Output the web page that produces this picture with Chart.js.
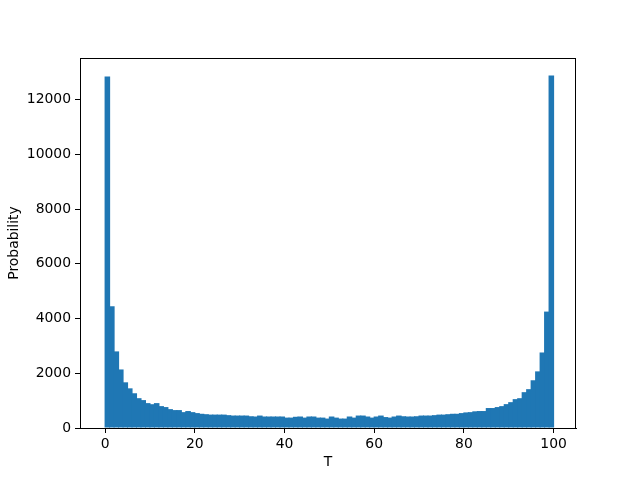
<!DOCTYPE html>
<html>
<head>
<meta charset="utf-8">
<script src="https://cdn.jsdelivr.net/npm/chart.js@4"></script>
<style>
    html, body { margin: 0; padding: 0; background: #fff; }
    #wrap { width: 640px; height: 480px; }
</style>
</head>
<body>
<div id="wrap"><canvas id="chart" width="640" height="480"></canvas></div>
<script>
// Histogram counts, one per unit-wide bin from 0 to 100
const binEdgesStart = Array.from({ length: 100 }, (_, i) => i);
const counts = [
    12850, 4450, 2800, 2140, 1670, 1450, 1270, 1090, 1020, 910,
    870, 910, 800, 765, 690, 655, 655, 580, 620, 580,
    545, 520, 505, 490, 490, 490, 490, 470, 455, 455,
    455, 455, 430, 420, 455, 420, 420, 420, 420, 420,
    380, 380, 410, 420, 380, 420, 420, 380, 380, 345,
    420, 380, 345, 345, 420, 380, 455, 455, 420, 380,
    420, 455, 400, 380, 420, 455, 430, 420, 420, 430,
    455, 455, 455, 470, 490, 490, 505, 520, 520, 545,
    570, 580, 610, 620, 620, 730, 730, 765, 800, 873,
    945, 1055, 1090, 1310, 1420, 1745, 2070, 2760, 4255, 12880
];
const xTicks = [0, 20, 40, 60, 80, 100];
const yTicks = [0, 2000, 4000, 6000, 8000, 10000, 12000];

const font = { family: 'DejaVu Sans', size: 13.9 };

// Draw the top and right spines like matplotlib's box
const frame = {
    id: 'frame',
    afterDraw(chart) {
        const { ctx, chartArea: a } = chart;
        ctx.save();
        ctx.strokeStyle = '#000';
        ctx.lineWidth = 1;
        ctx.strokeRect(Math.round(a.left) + 0.5, Math.round(a.top) + 0.5,
            Math.round(a.right - a.left) - 1, Math.round(a.bottom - a.top));
        ctx.restore();
    }
};

new Chart(document.getElementById('chart'), {
    type: 'bar',
    data: {
        datasets: [{
            data: binEdgesStart.map((x, i) => ({ x: x + 0.5, y: counts[i] })),
            backgroundColor: '#1f77b4',
            borderWidth: 0,
            inflateAmount: 0,
            // overlap by ~1px so anti-aliased edges don't leave seams between bins
            barPercentage: 1.24,
            categoryPercentage: 1
        }]
    },
    options: {
        responsive: false,
        animation: false,
        layout: { padding: { left: 0, top: 58, right: 64, bottom: 0 } },
        plugins: { legend: { display: false }, tooltip: { enabled: false } },
        scales: {
            x: {
                type: 'linear',
                offset: false,
                min: -5.6,
                max: 105.0,
                afterFit(scale) { scale.height = 52; },
                afterBuildTicks(scale) { scale.ticks = xTicks.map(v => ({ value: v })); },
                ticks: { color: '#000', font, padding: 3, maxRotation: 0 },
                grid: { offset: false, drawOnChartArea: false, drawTicks: true, tickLength: 5, tickColor: '#000' },
                border: { display: true, color: '#000', width: 1 },
                title: { display: true, text: 'T', color: '#000', font, padding: { top: 0, bottom: 9.7 } }
            },
            y: {
                min: 0,
                max: 13524,
                afterFit(scale) { scale.width = 80; },
                afterBuildTicks(scale) { scale.ticks = yTicks.map(v => ({ value: v })); },
                ticks: { color: '#000', font, padding: 4, callback: v => String(v) },
                grid: { drawOnChartArea: false, drawTicks: true, tickLength: 5, tickColor: '#000' },
                border: { display: true, color: '#000', width: 1 },
                title: { display: true, text: 'Probability', color: '#000', font, padding: { top: 5.7, bottom: 0 } }
            }
        }
    },
    plugins: [frame]
});
</script>
</body>
</html>
